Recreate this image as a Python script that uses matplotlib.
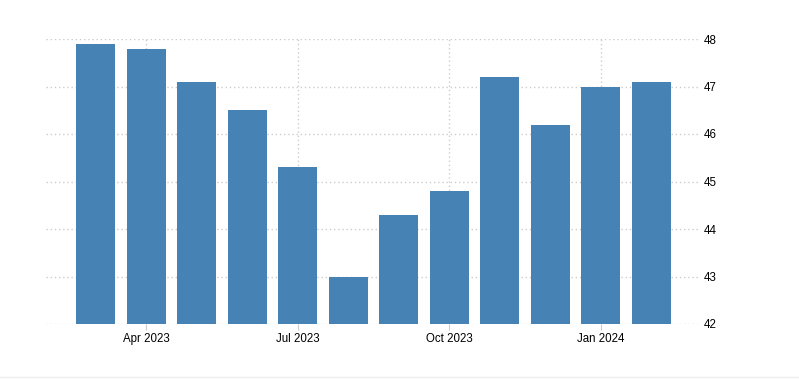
import matplotlib
matplotlib.use("Agg")
import matplotlib.pyplot as plt

plt.rcParams["font.family"] = ["Liberation Sans", "DejaVu Sans"]

# monthly values, Mar 2023 .. Feb 2024
months = ["Mar 2023", "Apr 2023", "May 2023", "Jun 2023", "Jul 2023", "Aug 2023",
          "Sep 2023", "Oct 2023", "Nov 2023", "Dec 2023", "Jan 2024", "Feb 2024"]
values = [47.9, 47.8, 47.1, 46.5, 45.3, 43.0, 44.3, 44.8, 47.2, 46.2, 47.0, 47.1]
tick_labels = ["Apr 2023", "Jul 2023", "Oct 2023", "Jan 2024"]
y_ticks = [42, 43, 44, 45, 46, 47, 48]

fig = plt.figure(figsize=(7.99, 3.8), dpi=100)
ax = fig.add_axes([46 / 799, 56 / 380, 654 / 799, 285 / 380])

x = list(range(len(months)))
ax.bar(x, values, width=0.77, color="#4682b4", zorder=2)

ax.set_xlim(-0.98, len(months) - 1 + 0.96)
ax.set_ylim(42, 48)
ax.set_yticks(y_ticks)
ax.set_xticks([months.index(t) for t in tick_labels])
ax.set_xticklabels(tick_labels)

ax.yaxis.tick_right()
for s in ax.spines.values():
    s.set_visible(False)
ax.grid(True, color="#cccccc", linestyle=(0, (1, 2)), linewidth=1, zorder=0)
ax.tick_params(axis="y", length=0, pad=2.5, labelsize=8.3, labelcolor="#000000")
ax.tick_params(axis="x", length=4, color="#cccccc", pad=2.5, labelsize=8.3, labelcolor="#000000")

# faint bottom border
fig.add_artist(plt.Line2D([0, 1], [3 / 380, 3 / 380], color="#eeeeee", linewidth=1))

fig.savefig("out.png", dpi=100)
